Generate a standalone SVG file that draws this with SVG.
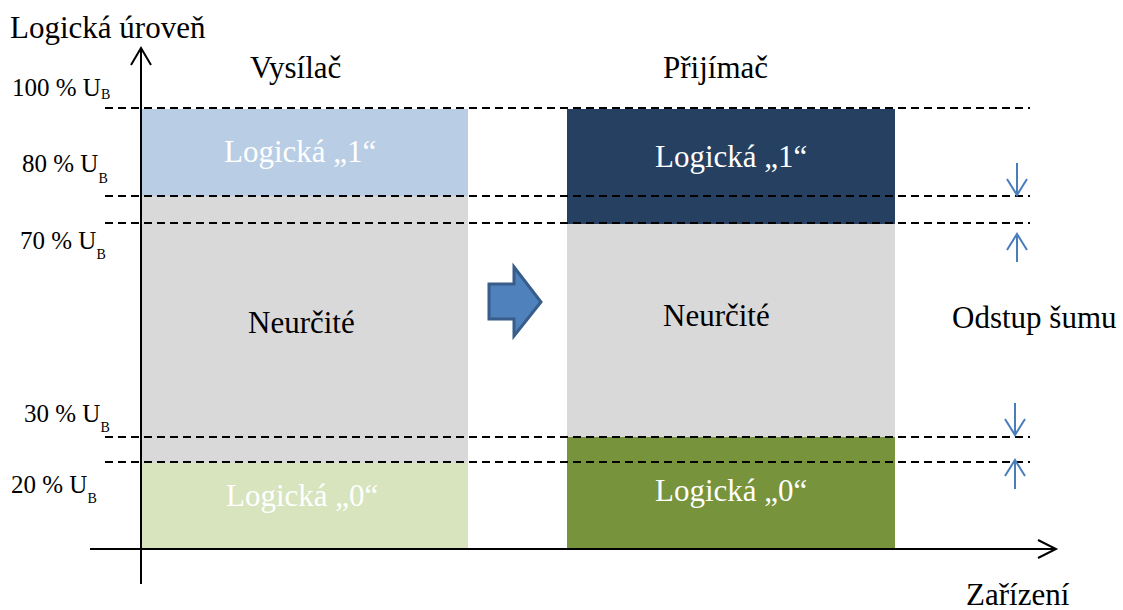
<svg xmlns="http://www.w3.org/2000/svg" width="1123" height="610" viewBox="0 0 1123 610">
<style>
text{font-family:"Liberation Serif","Times New Roman",serif;font-size:31px;fill:#000}
.w{fill:#fff}
.p{font-size:25px}
.s{font-size:14px}
.dash{stroke:#000;stroke-width:2;stroke-dasharray:8 5;fill:none}
.ax{stroke:#000;stroke-width:2;fill:none}
.sa{stroke:#4a7ebb;stroke-width:2;fill:none}
</style>
<rect width="1123" height="610" fill="#fff"/>
<g id="sender">
<rect x="141" y="109" width="327" height="87" fill="#b9cde5"/>
<rect x="141" y="196" width="327" height="267" fill="#d9d9d9"/>
<rect x="141" y="463" width="327" height="86" fill="#d7e4bd"/>
<text class="w" x="224" y="162">Logická „1“</text>
<text x="248" y="333">Neurčité</text>
<text class="w" x="226" y="506">Logická „0“</text>
</g>
<g id="receiver">
<rect x="567" y="109" width="328" height="115" fill="#254061"/>
<rect x="567" y="224" width="328" height="213" fill="#d9d9d9"/>
<rect x="567" y="437" width="328" height="112" fill="#77933c"/>
<text class="w" x="655" y="167">Logická „1“</text>
<text x="663" y="326">Neurčité</text>
<text class="w" x="655" y="501">Logická „0“</text>
</g>
<g id="big-arrow">
<polygon points="489,284 514,284 514,267 541,302 514,336 514,319 489,319" fill="#4f81bd" stroke="#385d8a" stroke-width="3" stroke-linejoin="miter"/>
</g>
<g id="connectors">
<line class="dash" x1="105" y1="108" x2="1030" y2="108"/>
<line class="dash" x1="105" y1="196" x2="1030" y2="196"/>
<line class="dash" x1="105" y1="223" x2="1030" y2="223"/>
<line class="dash" x1="105" y1="437" x2="1030" y2="437"/>
<line class="dash" x1="105" y1="462" x2="1030" y2="462"/>
<line class="ax" x1="141" y1="584" x2="141" y2="49"/>
<polyline class="ax" points="131,65 141,48 151,65"/>
<line class="ax" x1="90" y1="549" x2="1055" y2="549"/>
<polyline class="ax" points="1038,540 1056,549 1038,558"/>
<line class="sa" x1="1017" y1="163" x2="1017" y2="195"/>
<polyline class="sa" points="1007,179 1017,195 1027,179"/>
<line class="sa" x1="1017" y1="262" x2="1017" y2="234"/>
<polyline class="sa" points="1007,250 1017,234 1027,250"/>
<line class="sa" x1="1015" y1="403" x2="1015" y2="435"/>
<polyline class="sa" points="1005,419 1015,435 1025,419"/>
<line class="sa" x1="1015" y1="489" x2="1015" y2="460"/>
<polyline class="sa" points="1005,476 1015,460 1025,476"/>
</g>
<g id="labels">
<text x="10" y="38">Logická úroveň</text>
<text x="250" y="78">Vysílač</text>
<text x="663" y="78">Přijímač</text>
<text x="952" y="328">Odstup šumu</text>
<text x="966" y="605">Zařízení</text>
<text class="p" x="12" y="96">100 % U<tspan class="s" dy="3">B</tspan></text>
<text class="p" x="22" y="172">80 % U<tspan class="s" dy="11">B</tspan></text>
<text class="p" x="20" y="249">70 % U<tspan class="s" dy="10">B</tspan></text>
<text class="p" x="24" y="422">30 % U<tspan class="s" dy="10">B</tspan></text>
<text class="p" x="11" y="493">20 % U<tspan class="s" dy="10">B</tspan></text>
</g>
</svg>
